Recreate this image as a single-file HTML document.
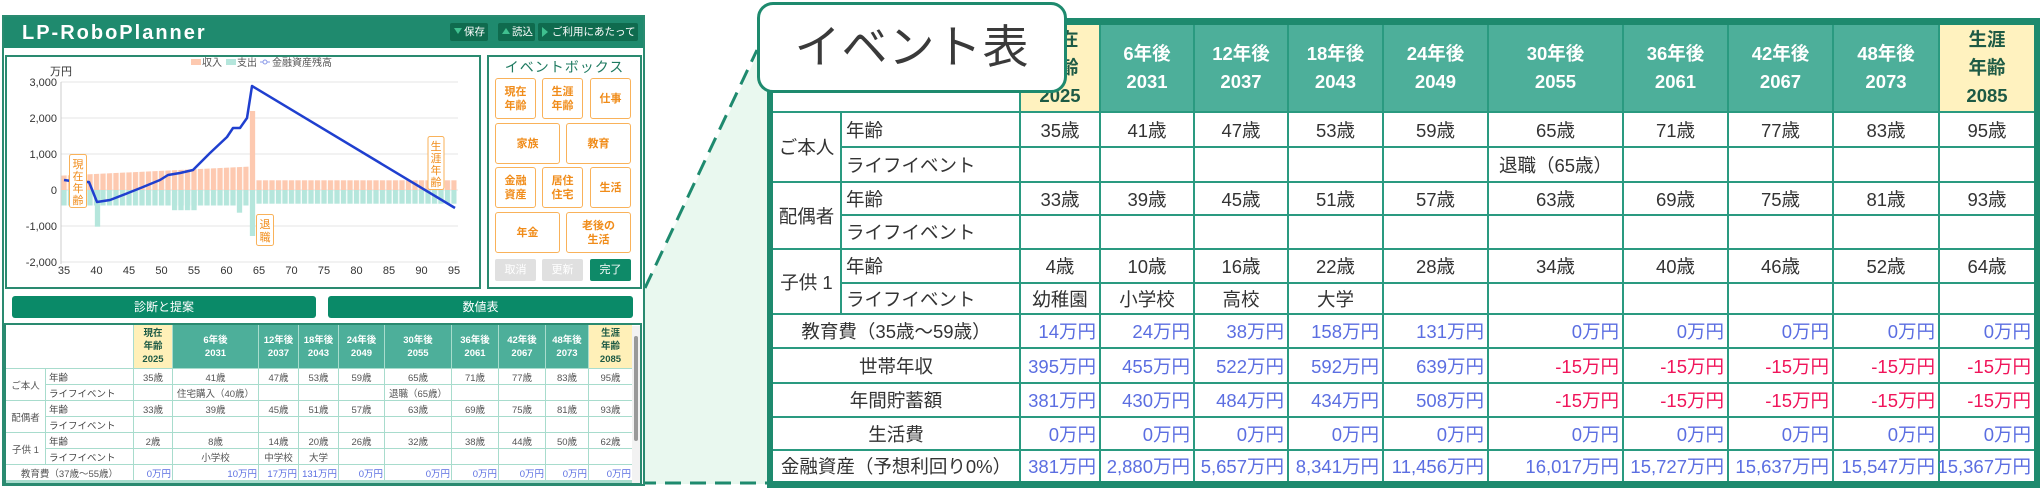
<!DOCTYPE html>
<html><head><meta charset="utf-8">
<style>
*{box-sizing:border-box;margin:0;padding:0}
body{width:2040px;height:494px;background:#fff;position:relative;overflow:hidden;font-family:"Liberation Sans","Noto Sans CJK JP",sans-serif;color:#333}
.abs{position:absolute}
.hb{position:absolute;top:23px;height:18px;background:#0f6b4e;color:#fff;font-size:10.5px;line-height:18px;padding-left:14px;border-radius:2px;white-space:nowrap;overflow:hidden}
.hb i{position:absolute;left:4px;top:5px;width:0;height:0}
.eb{position:absolute;border:1.5px solid #f9b25a;border-radius:3px;color:#f08c1a;font-weight:bold;font-size:11px;line-height:14px;display:flex;align-items:center;justify-content:center;text-align:center;background:#fff}
.bb{position:absolute;top:259px;height:22px;border-radius:2px;color:#fff;font-size:11px;line-height:22px;text-align:center}
.big{position:absolute;top:296px;height:22px;background:#0a8a68;color:#fff;font-size:12px;line-height:22px;text-align:center;border-radius:3px}
.st{position:absolute;left:6px;top:325px;width:626px;height:158px;overflow:hidden;display:grid;grid-template-columns:39px 87px 38px 85px 39px 39px 45px 66px 46px 46px 42px 43px;grid-template-rows:43px repeat(7,15px);gap:1px;background:#a8dccd;font-size:9.5px}
.st div{background:#fff;display:flex;align-items:center;justify-content:center;white-space:nowrap;color:#555}
.st .h{background:#4daf9a;color:#fff;font-weight:bold;text-align:center;line-height:13px}
.st .y{background:#fff0b8;color:#1d5a45;font-weight:bold;text-align:center;line-height:13px}
.st .l{justify-content:flex-start;padding-left:3px;color:#444}
.st .m{justify-content:flex-end;padding-right:1px;color:#5b6ee1}
.bt{position:absolute;left:767px;top:18px;width:1273px;height:470px;border:6px solid #1e8a6e;border-top-width:7px;border-bottom-width:7px;background:#2a9a80;overflow:hidden;display:grid;grid-template-columns:67px 177px 78px 92px 92px 93px 103px 133px 103px 103px 104px 94px;grid-template-rows:86px 33px 33px 31px 32px 32px 29px 32px 33px 32px 31px 30px;gap:2px;font-size:18.5px}
.bt div{background:#fff;display:flex;align-items:center;justify-content:center;white-space:nowrap;color:#333}
.bt .h{background:#4daf9a;color:#fff;font-weight:bold;text-align:center;line-height:28px}
.bt .y{background:#fff2bf;color:#1d5a45;font-weight:bold;text-align:center;line-height:28px}
.bt .l{justify-content:flex-start;padding-left:4px}
.bt .m{justify-content:flex-end;padding-right:3px;color:#5b6ee1}
.bt .n{justify-content:flex-end;padding-right:3px;color:#f0145a}
</style></head><body>

<svg class="abs" style="left:0;top:0" width="2040" height="494">
<polygon points="645,288 757,55 772,55 772,484 645,484" fill="#e9f8ef"/>
<line x1="645" y1="288" x2="757" y2="50" stroke="#1e8a6e" stroke-width="3" stroke-dasharray="16,9"/>
<line x1="640" y1="483" x2="772" y2="483" stroke="#1e8a6e" stroke-width="3" stroke-dasharray="16,9"/>
</svg>

<div class="abs" style="left:2px;top:15px;width:643px;height:471px;border:2px solid #2a8a70;background:#fff"></div>
<div class="abs" style="left:4px;top:17px;width:639px;height:31px;background:#1f8a6e"></div>
<div class="abs" style="left:22px;top:19px;color:#fff;font-weight:bold;font-size:20px;letter-spacing:2px;line-height:28px">LP-RoboPlanner</div>
<div class="hb" style="left:450px;width:38px"><i style="border-left:4px solid transparent;border-right:4px solid transparent;border-top:6px solid #3fc08f"></i>保存</div>
<div class="hb" style="left:498px;width:37px"><i style="top:5px;border-left:4px solid transparent;border-right:4px solid transparent;border-bottom:6px solid #3fc08f"></i>読込</div>
<div class="hb" style="left:538px;width:100px"><i style="top:4px;border-top:5px solid transparent;border-bottom:5px solid transparent;border-left:6px solid #3fc08f"></i>ご利用にあたって</div>

<div class="abs" style="left:5px;top:55px;width:476px;height:234px;border:2px solid #2a8a70"></div>
<div class="abs" style="left:487px;top:55px;width:155px;height:234px;border:2px solid #2a8a70"></div>
<div class="abs" style="left:487px;top:57px;width:155px;text-align:center;color:#1e7a60;font-size:14px;letter-spacing:1px">イベントボックス</div>
<div class="eb" style="left:495px;top:78px;width:41px;height:41px">現在<br>年齢</div>
<div class="eb" style="left:542px;top:78px;width:41px;height:41px">生涯<br>年齢</div>
<div class="eb" style="left:590px;top:78px;width:41px;height:41px">仕事</div>
<div class="eb" style="left:495px;top:123px;width:65px;height:41px">家族</div>
<div class="eb" style="left:566px;top:123px;width:65px;height:41px">教育</div>
<div class="eb" style="left:495px;top:167px;width:41px;height:41px">金融<br>資産</div>
<div class="eb" style="left:542px;top:167px;width:41px;height:41px">居住<br>住宅</div>
<div class="eb" style="left:590px;top:167px;width:41px;height:41px">生活</div>
<div class="eb" style="left:495px;top:212px;width:65px;height:41px">年金</div>
<div class="eb" style="left:566px;top:212px;width:65px;height:41px">老後の<br>生活</div>
<div class="bb" style="left:495px;width:41px;background:#e0e0e0">取消</div>
<div class="bb" style="left:542px;width:41px;background:#e0e0e0">更新</div>
<div class="bb" style="left:590px;width:41px;background:#0e8a68">完了</div>

<svg class="abs" style="left:0;top:0" width="490" height="290" font-family="Liberation Sans, Noto Sans CJK JP, sans-serif">
<defs>
<pattern id="pi" x="61.35" y="0" width="6.5" height="494" patternUnits="userSpaceOnUse"><rect width="5.3" height="494" fill="#fdc9b0"/></pattern>
<pattern id="pe" x="61.35" y="0" width="6.5" height="494" patternUnits="userSpaceOnUse"><rect width="5.3" height="494" fill="#b5e6dc"/></pattern>
</defs>
<g stroke="#e4e4e4" stroke-width="1">
<line x1="61" y1="82" x2="458" y2="82"/><line x1="61" y1="118" x2="458" y2="118"/><line x1="61" y1="154" x2="458" y2="154"/><line x1="61" y1="190" x2="458" y2="190"/><line x1="61" y1="226" x2="458" y2="226"/><line x1="61" y1="262" x2="458" y2="262"/>
</g>
<line x1="61" y1="82" x2="61" y2="264" stroke="#ccc"/>
<g font-size="11" fill="#333" text-anchor="end">
<text x="57" y="86">3,000</text><text x="57" y="122">2,000</text><text x="57" y="158">1,000</text><text x="57" y="194">0</text><text x="57" y="230">-1,000</text><text x="57" y="266">-2,000</text>
</g>
<text x="50" y="75" font-size="11" fill="#333">万円</text>
<g font-size="11" fill="#333" text-anchor="middle">
<text x="64" y="274">35</text><text x="96.5" y="274">40</text><text x="129" y="274">45</text><text x="161.5" y="274">50</text><text x="194" y="274">55</text><text x="226.5" y="274">60</text><text x="259" y="274">65</text><text x="291.5" y="274">70</text><text x="324" y="274">75</text><text x="356.5" y="274">80</text><text x="389" y="274">85</text><text x="421.5" y="274">90</text><text x="454" y="274">95</text>
</g>
<polygon points="61.35,190 61.35,175.6 248.65,166.6 248.65,190" fill="url(#pi)"/>
<rect x="249.85" y="111" width="5.3" height="79" fill="#fdc9b0"/>
<rect x="256.35" y="180.3" width="200.3" height="9.7" fill="url(#pi)"/>
<rect x="61.35" y="190" width="187.3" height="15.5" fill="url(#pe)"/>
<rect x="94.85" y="190" width="5.3" height="36.7" fill="#b5e6dc"/>
<rect x="172" y="190" width="25" height="20.2" fill="url(#pe)"/>
<rect x="236.85" y="190" width="5.3" height="22.7" fill="#b5e6dc"/>
<rect x="249.85" y="190" width="5.3" height="46" fill="#b5e6dc"/>
<rect x="256.35" y="190" width="200.3" height="13.7" fill="url(#pe)"/>
<polyline points="64,180 78,182 89,182 97,202 110,200 128,193 143,187 160,180 168,175 180,173 193,170 210,153 227,137 233,128 240,128 247,118 252,86 455,208" fill="none" stroke="#1f3fcf" stroke-width="2.5" stroke-linejoin="round"/>
<g fill="#fff" stroke="#f9b25a" stroke-width="1"><rect x="69.5" y="154.5" width="17" height="53" rx="2"/><rect x="256.5" y="214.5" width="17" height="31" rx="2"/><rect x="428" y="136.5" width="16" height="53" rx="2"/></g>
<g font-size="11" fill="#f08c1a" text-anchor="middle">
<text x="78" y="168">現</text><text x="78" y="180">在</text><text x="78" y="192">年</text><text x="78" y="204">齢</text>
<text x="265" y="228">退</text><text x="265" y="241">職</text>
<text x="436" y="150">生</text><text x="436" y="162">涯</text><text x="436" y="174">年</text><text x="436" y="186">齢</text>
</g>
<rect x="191" y="59" width="10" height="6" fill="#fdc9b0"/><text x="202" y="66" font-size="10" fill="#555">収入</text>
<rect x="226" y="59" width="10" height="6" fill="#b5e6dc"/><text x="237" y="66" font-size="10" fill="#555">支出</text>
<line x1="260" y1="62" x2="270" y2="62" stroke="#8a9ae8"/><circle cx="265" cy="62" r="2" fill="#fff" stroke="#8a9ae8"/><text x="272" y="66" font-size="10" fill="#555">金融資産残高</text>
</svg>

<div class="big" style="left:12px;width:304px">診断と提案</div>
<div class="big" style="left:328px;width:305px">数値表</div>

<div class="abs" style="left:4px;top:323px;width:638px;height:162px;border:2px solid #2a8a70"></div>
<div class="st">
<div style="grid-column:1/3"></div><div class="y">現在<br>年齢<br>2025</div><div class="h">6年後<br>2031</div><div class="h">12年後<br>2037</div><div class="h">18年後<br>2043</div><div class="h">24年後<br>2049</div><div class="h">30年後<br>2055</div><div class="h">36年後<br>2061</div><div class="h">42年後<br>2067</div><div class="h">48年後<br>2073</div><div class="y">生涯<br>年齢<br>2085</div>
<div style="grid-row:2/4">ご本人</div><div class="l">年齢</div><div>35歳</div><div>41歳</div><div>47歳</div><div>53歳</div><div>59歳</div><div>65歳</div><div>71歳</div><div>77歳</div><div>83歳</div><div>95歳</div>
<div class="l">ライフイベント</div><div></div><div>住宅購入（40歳）</div><div></div><div></div><div></div><div>退職（65歳）</div><div></div><div></div><div></div><div></div>
<div style="grid-row:4/6">配偶者</div><div class="l">年齢</div><div>33歳</div><div>39歳</div><div>45歳</div><div>51歳</div><div>57歳</div><div>63歳</div><div>69歳</div><div>75歳</div><div>81歳</div><div>93歳</div>
<div class="l">ライフイベント</div><div></div><div></div><div></div><div></div><div></div><div></div><div></div><div></div><div></div><div></div>
<div style="grid-row:6/8">子供 1</div><div class="l">年齢</div><div>2歳</div><div>8歳</div><div>14歳</div><div>20歳</div><div>26歳</div><div>32歳</div><div>38歳</div><div>44歳</div><div>50歳</div><div>62歳</div>
<div class="l">ライフイベント</div><div></div><div>小学校</div><div>中学校</div><div>大学</div><div></div><div></div><div></div><div></div><div></div><div></div>
<div style="grid-column:1/3">教育費（37歳～55歳）</div><div class="m">0万円</div><div class="m">10万円</div><div class="m">17万円</div><div class="m">131万円</div><div class="m">0万円</div><div class="m">0万円</div><div class="m">0万円</div><div class="m">0万円</div><div class="m">0万円</div><div class="m">0万円</div>
</div>
<div class="abs" style="left:632px;top:326px;width:8px;height:157px;background:#f2f2f2"></div>
<div class="abs" style="left:634px;top:336px;width:4px;height:105px;background:#999;border-radius:2px"></div>

<div class="bt">
<div style="grid-column:1/3"></div><div class="y">現在<br>年齢<br>2025</div><div class="h">6年後<br>2031</div><div class="h">12年後<br>2037</div><div class="h">18年後<br>2043</div><div class="h">24年後<br>2049</div><div class="h">30年後<br>2055</div><div class="h">36年後<br>2061</div><div class="h">42年後<br>2067</div><div class="h">48年後<br>2073</div><div class="y">生涯<br>年齢<br>2085</div>
<div style="grid-row:2/4">ご本人</div><div class="l">年齢</div><div>35歳</div><div>41歳</div><div>47歳</div><div>53歳</div><div>59歳</div><div>65歳</div><div>71歳</div><div>77歳</div><div>83歳</div><div>95歳</div>
<div class="l">ライフイベント</div><div></div><div></div><div></div><div></div><div></div><div>退職（65歳）</div><div></div><div></div><div></div><div></div>
<div style="grid-row:4/6">配偶者</div><div class="l">年齢</div><div>33歳</div><div>39歳</div><div>45歳</div><div>51歳</div><div>57歳</div><div>63歳</div><div>69歳</div><div>75歳</div><div>81歳</div><div>93歳</div>
<div class="l">ライフイベント</div><div></div><div></div><div></div><div></div><div></div><div></div><div></div><div></div><div></div><div></div>
<div style="grid-row:6/8">子供 1</div><div class="l">年齢</div><div>4歳</div><div>10歳</div><div>16歳</div><div>22歳</div><div>28歳</div><div>34歳</div><div>40歳</div><div>46歳</div><div>52歳</div><div>64歳</div>
<div class="l">ライフイベント</div><div>幼稚園</div><div>小学校</div><div>高校</div><div>大学</div><div></div><div></div><div></div><div></div><div></div><div></div>
<div style="grid-column:1/3">教育費（35歳～59歳）</div><div class="m">14万円</div><div class="m">24万円</div><div class="m">38万円</div><div class="m">158万円</div><div class="m">131万円</div><div class="m">0万円</div><div class="m">0万円</div><div class="m">0万円</div><div class="m">0万円</div><div class="m">0万円</div>
<div style="grid-column:1/3">世帯年収</div><div class="m">395万円</div><div class="m">455万円</div><div class="m">522万円</div><div class="m">592万円</div><div class="m">639万円</div><div class="n">-15万円</div><div class="n">-15万円</div><div class="n">-15万円</div><div class="n">-15万円</div><div class="n">-15万円</div>
<div style="grid-column:1/3">年間貯蓄額</div><div class="m">381万円</div><div class="m">430万円</div><div class="m">484万円</div><div class="m">434万円</div><div class="m">508万円</div><div class="n">-15万円</div><div class="n">-15万円</div><div class="n">-15万円</div><div class="n">-15万円</div><div class="n">-15万円</div>
<div style="grid-column:1/3">生活費</div><div class="m">0万円</div><div class="m">0万円</div><div class="m">0万円</div><div class="m">0万円</div><div class="m">0万円</div><div class="m">0万円</div><div class="m">0万円</div><div class="m">0万円</div><div class="m">0万円</div><div class="m">0万円</div>
<div style="grid-column:1/3">金融資産（予想利回り0%）</div><div class="m">381万円</div><div class="m">2,880万円</div><div class="m">5,657万円</div><div class="m">8,341万円</div><div class="m">11,456万円</div><div class="m">16,017万円</div><div class="m">15,727万円</div><div class="m">15,637万円</div><div class="m">15,547万円</div><div class="m">15,367万円</div>
</div>

<div class="abs" style="left:757px;top:2px;width:310px;height:91px;border:3px solid #1e8a6e;border-radius:16px;background:#fff;text-align:center;font-size:46px;line-height:85px;color:#3a3a3a;letter-spacing:1px">イベント表</div>
</body></html>
